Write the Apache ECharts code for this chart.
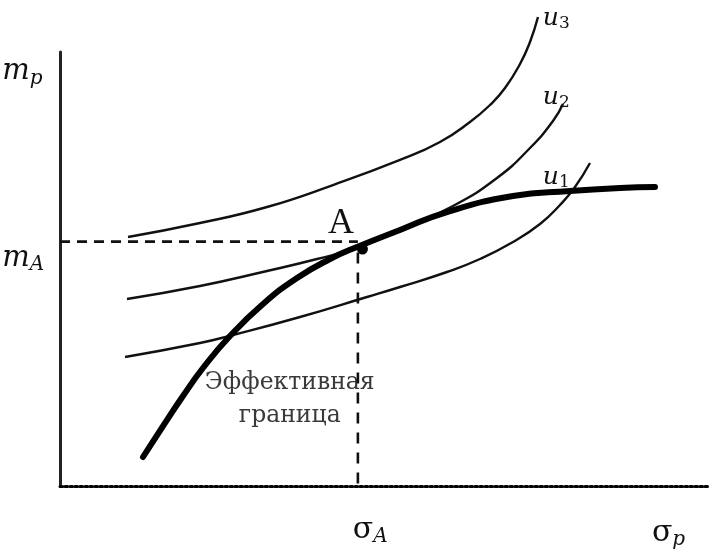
<!DOCTYPE html>
<html><head><meta charset="utf-8">
<script src="https://cdn.jsdelivr.net/npm/echarts@6/dist/echarts.min.js"></script>
<style>html,body{margin:0;padding:0;background:#fff}#c{width:709px;height:550px}</style>
</head><body><div id="c"></div>
<script>
// Indifference curves (sigma_p, m_p) in arbitrary units 0..100
const u1 = [[10.02,29.72],[21.57,32.95],[26.66,34.79],[36.98,38.94],[47.30,43.55],[52.39,45.85],[59.63,49.31],[64.71,52.30],[69.80,56.22],[73.96,60.37],[77.04,64.75],[79.35,68.89],[81.66,74.42]];
const u2 = [[10.32,43.09],[21.57,46.08],[31.90,49.54],[39.60,52.30],[46.22,55.07],[52.39,58.99],[60.55,64.52],[67.33,70.97],[72.42,77.88],[75.96,84.10],[77.50,88.02]];
const u3 = [[10.48,57.37],[21.57,60.60],[31.90,64.29],[42.06,69.35],[52.39,75.12],[58.55,79.26],[63.17,83.87],[66.26,87.79],[68.57,91.71],[70.88,97.24],[72.42,102.30],[73.65,108.06]];
// Efficient frontier
const frontier = [[12.79,6.68],[15.87,13.82],[18.95,20.74],[22.03,27.19],[26.19,34.56],[31.28,41.94],[36.52,47.93],[41.60,52.30],[45.76,55.07],[52.39,58.99],[59.63,63.13],[69.80,66.82],[78.58,67.97],[86.29,68.66],[91.68,68.89]];
// Optimal portfolio A
const pointA = [46.6, 54.6];
const sigmaA = 45.9;
const mA = 56.3;
// Text labels: [x, y, text, align]
const labels = [
  [-8.9, 95.4, '{m|m}{sub|p}', 'left'],
  [-8.9, 52.5, '{m|m}{sub|A}', 'left'],
  [45.1, -10.1, '{sig|σ}{sub|A}', 'left'],
  [91.2, -10.8, '{sig|σ}{sub|p}', 'left'],
  [43.3, 60.4, '{a|A}', 'center'],
  [74.4, 107.8, '{u|u}{us|3}', 'left'],
  [74.4, 89.6, '{u|u}{us|2}', 'left'],
  [74.4, 71.0, '{u|u}{us|1}', 'left'],
  [35.4, 19.9, '{t|Эффективная}\n{t|граница}', 'center']
];

const chart = echarts.init(document.getElementById('c'), null, {renderer: 'canvas'});
const curveStyle = {color: '#111', width: 2.4};
const serif = 'DejaVu Serif';
const curve = d => ({type: 'line', data: d, smooth: 0.5, symbol: 'none', clip: false, lineStyle: curveStyle});
chart.setOption({
  animation: false,
  backgroundColor: '#fff',
  grid: {left: 60, right: 0, top: 52, bottom: 64},
  xAxis: {type: 'value', min: 0, max: 100,
    axisLine: {show: true, lineStyle: {color: '#000', width: 3, type: [2.5, 2.5]}},
    axisTick: {show: false}, axisLabel: {show: false}, splitLine: {show: false}},
  yAxis: {type: 'value', min: 0, max: 100,
    axisLine: {show: true, lineStyle: {color: '#222', width: 3}},
    axisTick: {show: false}, axisLabel: {show: false}, splitLine: {show: false}},
  series: [
    {type: 'line', data: [[0, mA], [sigmaA, mA]], symbol: 'none',
      lineStyle: {color: '#111', width: 2.6, type: [10, 7]}},
    {type: 'line', data: [[sigmaA, mA - 2.5], [sigmaA, 0]], symbol: 'none',
      lineStyle: {color: '#111', width: 2.6, type: [11, 9]}},
    curve(u1), curve(u2), curve(u3),
    {type: 'line', data: frontier, smooth: 0.5, symbol: 'none', clip: false,
      lineStyle: {color: '#000', width: 6, cap: 'round'}},
    {type: 'scatter', data: [pointA], symbol: 'circle', symbolSize: 11,
      itemStyle: {color: '#000', opacity: 1}},
    {type: 'scatter', clip: false, symbolSize: 0, itemStyle: {opacity: 1},
      data: labels.map(l => ({value: [l[0], l[1]], label: {formatter: l[2], align: l[3]}})),
      label: {show: true, position: 'inside', verticalAlign: 'middle', color: '#111', opacity: 1,
        rich: {
          m: {fontFamily: serif, fontStyle: 'italic', fontSize: 29, color: '#111'},
          sig: {fontFamily: serif, fontSize: 30, color: '#111'},
          sub: {fontFamily: serif, fontStyle: 'italic', fontSize: 20, color: '#111', padding: [14, 0, 0, 0]},
          a: {fontFamily: 'Liberation Serif', fontSize: 36, color: '#111'},
          u: {fontFamily: serif, fontStyle: 'italic', fontSize: 25, color: '#111'},
          us: {fontFamily: serif, fontSize: 17, color: '#111', padding: [10, 0, 0, 0]},
          t: {fontFamily: serif, fontSize: 23.5, color: '#3a3a3a', lineHeight: 33}
        }}}
  ]
});
</script></body></html>
